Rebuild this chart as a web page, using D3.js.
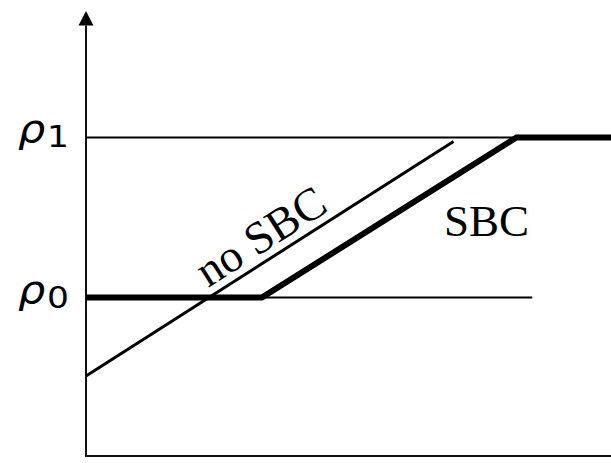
<!DOCTYPE html>
<html>
<head>
<meta charset="utf-8">
<script src="https://cdn.jsdelivr.net/npm/d3@7"></script>
<style>
  html, body { margin: 0; padding: 0; background: #fff; }
  svg { display: block; }
</style>
</head>
<body>
<div id="chart"></div>
<script>
(function(){

const width = 611;
const height = 463;

// data (abstract units: rho0 = 0, rho1 = 1)
const levels = [0, 1];
const levelLabels = ["0", "1"];
const noSBC = [[0, -0.49], [7.0, 0.975]];
const withSBC = [[0, 0], [3.35, 0], [8.2, 1], [10, 1]];
const refLines = [[0, 8.5], [0, 8.2]];   // thin horizontal lines at rho0, rho1
const lineLabels = ["no SBC", "SBC"];

const svg = d3.select("#chart")
  .append("svg")
  .attr("width", width)
  .attr("height", height);

// scales
const x = d3.scaleLinear()
  .domain([0, 10])
  .range([86, 611]);

const y = d3.scaleLinear()
  .domain([-0.99, 1.79])
  .range([456, 11]);

const line = d3.line()
  .x(d => x(d[0]))
  .y(d => y(d[1]));

// axes
svg.append("line")
  .attr("x1", x(0)).attr("x2", x(0))
  .attr("y1", y(-0.99) + 1).attr("y2", y(1.7))
  .attr("stroke", "#111")
  .attr("stroke-width", 2);

svg.append("line")
  .attr("x1", x(0) - 1).attr("x2", x(10))
  .attr("y1", y(-0.99)).attr("y2", y(-0.99))
  .attr("stroke", "#111")
  .attr("stroke-width", 2);

// arrow head
svg.append("path")
  .attr("d", `M${x(0)},${y(1.79)} L${x(0) - 7.5},${y(1.70)} L${x(0) + 7.5},${y(1.70)} Z`)
  .attr("fill", "#000");

// thin reference lines
svg.selectAll(".ref")
  .data(levels)
  .enter()
  .append("line")
  .attr("class", "ref")
  .attr("x1", (d, i) => x(refLines[i][0]))
  .attr("x2", (d, i) => x(refLines[i][1]))
  .attr("y1", d => y(d))
  .attr("y2", d => y(d))
  .attr("stroke", "#000")
  .attr("stroke-width", 2);

// no SBC line
svg.append("path")
  .attr("d", line(noSBC))
  .attr("fill", "none")
  .attr("stroke", "#000")
  .attr("stroke-width", 3);

// SBC line (thick)
svg.append("path")
  .attr("d", line(withSBC))
  .attr("fill", "none")
  .attr("stroke", "#000")
  .attr("stroke-width", 6)
  .attr("stroke-linejoin", "miter");

// rho labels
const lab = svg.selectAll(".lev")
  .data(levels)
  .enter()
  .append("g")
  .attr("class", "lev");

lab.append("text")
  .attr("transform", d => `translate(18,${y(d) + 5}) scale(1.1,1)`)
  .style("font-family", "'DejaVu Sans'")
  .style("font-size", "39px")
  .style("font-style", "italic")
  .text("\u03C1");

lab.append("text")
  .attr("transform", d => `translate(47,${y(d) + 10}) scale(1.15,1)`)
  .style("font-family", "'DejaVu Sans'")
  .style("font-size", "30px")
  .text((d, i) => levelLabels[i]);

// line labels
const angle = Math.atan2(y(noSBC[1][1]) - y(noSBC[0][1]), x(noSBC[1][0]) - x(noSBC[0][0])) * 180 / Math.PI;

svg.append("text")
  .attr("transform", `translate(208,288) rotate(${angle})`)
  .style("font-family", "'Liberation Serif'")
  .style("font-size", "46px")
  .text(lineLabels[0]);

svg.append("text")
  .attr("x", 444)
  .attr("y", 236)
  .style("font-family", "'Liberation Serif'")
  .style("font-size", "45px")
  .text(lineLabels[1]);

})();
</script>
</body>
</html>
